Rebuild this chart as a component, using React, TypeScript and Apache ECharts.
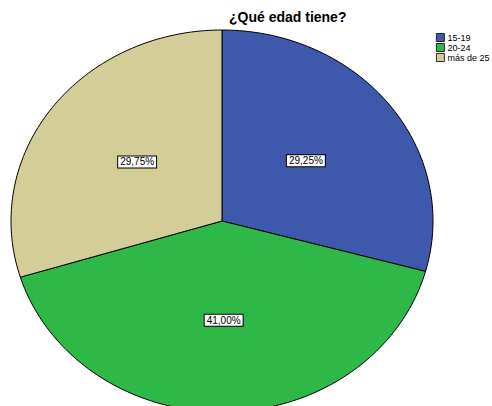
import React, { useEffect, useRef } from "react";
import * as echarts from "echarts";

const title = "¿Qué edad tiene?";
const categories = ["15-19", "20-24", "más de 25"];
const percentages = [29.25, 41.0, 29.75];
const colors = ["#3e58ac", "#2eb848", "#d3ce97"];

const CX = 222;
const CY = 221;
const RX = 211;
const RY = 191;

function fmt(p: number) {
  return p.toFixed(2).replace(".", ",") + "%";
}

function renderItem(params: any, api: any) {
  const start = api.value(0) as number;
  const val = api.value(1) as number;
  const a0 = (start / 100) * Math.PI * 2;
  const a1 = ((start + val) / 100) * Math.PI * 2;
  const steps = Math.max(4, Math.ceil(val * 3));
  const pts: number[][] = [[CX, CY]];
  for (let k = 0; k <= steps; k++) {
    const a = a0 + ((a1 - a0) * k) / steps;
    pts.push([CX + RX * Math.sin(a), CY - RY * Math.cos(a)]);
  }
  const am = (a0 + a1) / 2;
  const lx = CX + 0.5 * RX * Math.sin(am);
  const ly = CY - 0.52 * RY * Math.cos(am);
  return {
    type: "group",
    children: [
      {
        type: "polygon",
        shape: { points: pts },
        style: { fill: api.visual("color"), stroke: "#000", lineWidth: 1 },
      },
      {
        type: "text",
        x: lx,
        y: ly,
        z2: 10,
        style: {
          text: fmt(val),
          align: "center",
          verticalAlign: "middle",
          fill: "#000",
          font: "10px 'Liberation Sans', Arial, sans-serif",
          backgroundColor: "#fff",
          borderColor: "#000",
          borderWidth: 1,
          padding: [1, 2, 0, 2],
        },
      },
    ],
  };
}

export default function App() {
  const ref = useRef<HTMLDivElement>(null);
  useEffect(() => {
    if (!ref.current) return;
    const chart = echarts.init(ref.current, undefined, { renderer: "svg" });
    let cum = 0;
    const series = categories.map((name, i) => {
      const s = cum;
      cum += percentages[i];
      return {
        type: "custom",
        name,
        coordinateSystem: "none",
        itemStyle: { color: colors[i] },
        data: [[s, percentages[i]]],
        renderItem,
      };
    });
    chart.setOption({
      animation: false,
      backgroundColor: "#fff",
      title: {
        text: title,
        left: 229,
        top: 10,
        padding: 0,
        textStyle: {
          fontFamily: "'Liberation Sans', Arial, sans-serif",
          fontWeight: "bold",
          fontSize: 14,
          color: "#000",
        },
      },
      legend: {
        orient: "vertical",
        left: 436,
        top: 33,
        padding: 0,
        itemGap: 1,
        itemWidth: 8,
        itemHeight: 8,
        icon: "rect",
        itemStyle: { borderColor: "#000", borderWidth: 0.8 },
        textStyle: {
          fontFamily: "'Liberation Sans', Arial, sans-serif",
          fontSize: 9,
          color: "#000",
          padding: [0, 0, 0, -2],
        },
        data: categories,
      },
      series,
    } as any);
    return () => chart.dispose();
  }, []);
  return (
    <div
      ref={ref}
      style={{ position: "fixed", left: 0, top: 0, width: 492, height: 406 }}
    />
  );
}
